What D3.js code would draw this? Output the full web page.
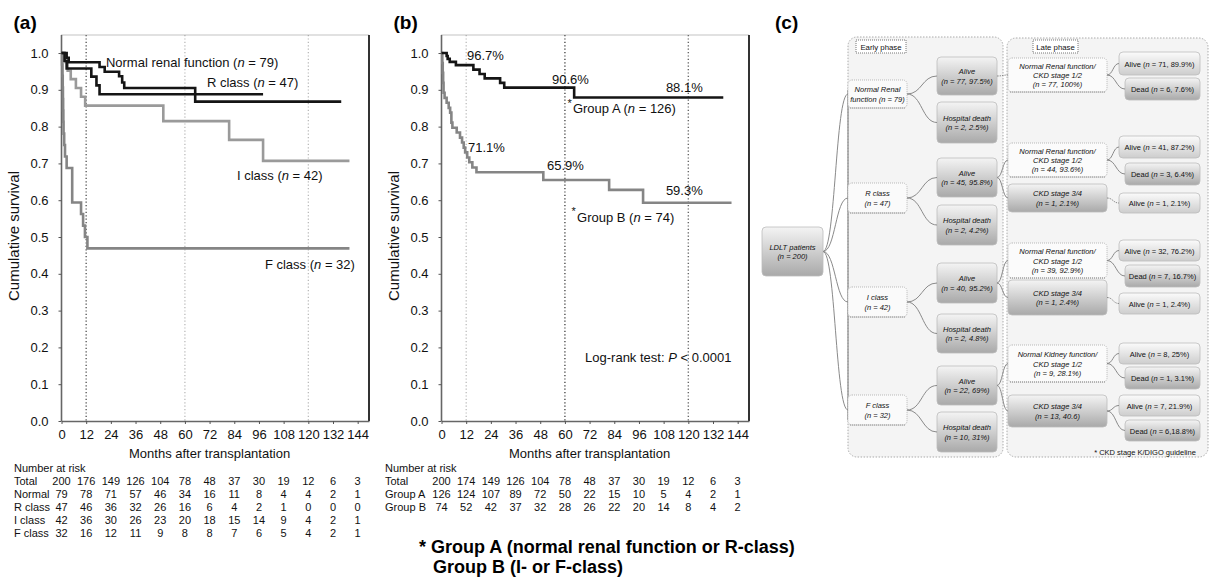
<!DOCTYPE html>
<html>
<head>
<meta charset="utf-8">
<script src="https://cdn.jsdelivr.net/npm/d3@7"></script>
<style>
body { margin: 0; background: #fff; }
svg { font-family: "Liberation Sans", Arial, Helvetica, sans-serif; }
</style>
</head>
<body>
<svg id="fig" width="1211" height="578"></svg>
<script>
// ---- data ----
var months = [0, 12, 24, 36, 48, 60, 72, 84, 96, 108, 120, 132, 144];
var yTicks = [0, 0.1, 0.2, 0.3, 0.4, 0.5, 0.6, 0.7, 0.8, 0.9, 1.0];

// Kaplan-Meier steps [month, survival], panel (a)
var normalCurve = [[0,1],[2.5,0.987],[3.5,0.975],[18.5,0.962],[21,0.949],[28,0.937],[29.5,0.92],[30.5,0.905],[65,0.868],[136,0.868]];
var rClassCurve = [[0,1],[1.5,0.979],[2.5,0.958],[14.5,0.936],[17,0.912],[18.5,0.888],[98,0.888]];
var iClassCurve = [[0,1],[1.2,0.976],[3,0.952],[4.5,0.929],[7,0.905],[9.5,0.881],[11.5,0.857],[49.5,0.815],[81.5,0.764],[98,0.707],[140,0.707]];
var fClassCurve = [[0,1],[0.3,0.969],[0.5,0.938],[0.6,0.906],[0.7,0.875],[0.8,0.844],[0.9,0.813],[1.0,0.781],[1.3,0.75],[1.7,0.719],[2.5,0.6875],[5.2,0.594],[9.5,0.5625],[10.5,0.531],[11.4,0.5],[12.6,0.469],[140,0.469]];

// panel (b)
var groupACurve = [[0,1],[2.5,0.992],[3,0.984],[4,0.976],[7,0.967],[15.5,0.955],[18.5,0.943],[21,0.931],[28.5,0.919],[30.5,0.906],[64.5,0.879],[137,0.879]];
var groupBCurve = [[0,1],[0.4,0.973],[0.6,0.946],[0.8,0.919],[1,0.892],[1.5,0.878],[2.5,0.865],[3.5,0.851],[4.2,0.838],[4.8,0.811],[5.3,0.797],[7.4,0.784],[9,0.77],[10,0.757],[10.8,0.743],[11.5,0.73],[12.5,0.716],[13.5,0.703],[15,0.689],[17,0.676],[49.5,0.655],[81.5,0.628],[98,0.593],[141,0.593]];

// numbers at risk
var riskLabelsA = ["Total", "Normal", "R class", "I class", "F class"];
var riskTotalA  = [200, 176, 149, 126, 104, 78, 48, 37, 30, 19, 12, 6, 3];
var riskNormal  = [79, 78, 71, 57, 46, 34, 16, 11, 8, 4, 4, 2, 1];
var riskRClass  = [47, 46, 36, 32, 26, 16, 6, 4, 2, 1, 0, 0, 0];
var riskIClass  = [42, 36, 30, 26, 23, 20, 18, 15, 14, 9, 4, 2, 1];
var riskFClass  = [32, 16, 12, 11, 9, 8, 8, 7, 6, 5, 4, 2, 1];

var riskLabelsB = ["Total", "Group A", "Group B"];
var riskTotalB  = [200, 174, 149, 126, 104, 78, 48, 37, 30, 19, 12, 6, 3];
var riskGroupA  = [126, 124, 107, 89, 72, 50, 22, 15, 10, 5, 4, 2, 1];
var riskGroupB  = [74, 52, 42, 37, 32, 28, 26, 22, 20, 14, 8, 4, 2];

var curveLabelsA = ["Normal renal function (n = 79)", "R class (n = 47)", "I class (n = 42)", "F class (n = 32)"];
var pctLabelsB = ["96.7%", "90.6%", "88.1%", "71.1%", "65.9%", "59.3%"];
var groupLabelsB = ["Group A (n = 126)", "Group B (n = 74)"];
var logRankText = "Log-rank test: P < 0.0001";
var footnoteLines = ["* Group A (normal renal function or R-class)", "Group B (I- or F-class)"];

// flowchart texts (panel c)
var flowRoot = ["LDLT patients", "(n = 200)"];
var flowClasses = [["Normal Renal", "function (n = 79)"], ["R class", "(n = 47)"], ["I class", "(n = 42)"], ["F class", "(n = 32)"]];
var flowEarly = [
  [["Alive", "(n = 77, 97.5%)"], ["Hospital death", "(n = 2, 2.5%)"]],
  [["Alive", "(n = 45, 95.8%)"], ["Hospital death", "(n = 2, 4.2%)"]],
  [["Alive", "(n = 40, 95.2%)"], ["Hospital death", "(n = 2, 4.8%)"]],
  [["Alive", "(n = 22, 69%)"], ["Hospital death", "(n = 10, 31%)"]]
];
var flowMid = [
  [["Normal Renal function/", "CKD stage 1/2", "(n = 77, 100%)"]],
  [["Normal Renal function/", "CKD stage 1/2", "(n = 44, 93.6%)"], ["CKD stage 3/4", "(n = 1, 2.1%)"]],
  [["Normal Renal function/", "CKD stage 1/2", "(n = 39, 92.9%)"], ["CKD stage 3/4", "(n = 1, 2.4%)"]],
  [["Normal Kidney function/", "CKD stage 1/2", "(n = 9, 28.1%)"], ["CKD stage 3/4", "(n = 13, 40.6)"]]
];
var flowFinal = [
  [["Alive (n = 71, 89.9%)", "Dead (n = 6, 7.6%)"]],
  [["Alive (n = 41, 87.2%)", "Dead (n = 3, 6.4%)"], ["Alive (n = 1, 2.1%)"]],
  [["Alive (n = 32, 76.2%)", "Dead (n = 7, 16.7%)"], ["Alive (n = 1, 2.4%)"]],
  [["Alive (n = 8, 25%)", "Dead (n = 1, 3.1%)"], ["Alive (n = 7, 21.9%)", "Dead (n = 6,18.8%)"]]
];
var phaseLabels = ["Early phase", "Late phase"];
var flowNote = "* CKD stage K/DIGO guideline";

// ---- drawing ----
var svg = d3.select("#fig");

// put "n" and "P" in italics
function rich(sel, str) {
  str.split(/(\bn\b|\bP\b)/).forEach(function(s) {
    if (!s) return;
    var t = sel.append("tspan").text(s);
    if (s === "n" || s === "P") t.attr("font-style", "italic");
  });
  return sel;
}

function kmPanel(p) {
  var g = svg.append("g");
  var x = d3.scaleLinear().domain([0, 149.5]).range([p.left, p.left + 307.5]);
  var y = d3.scaleLinear().domain([0, 1.049]).range([421, 35]);

  // dotted reference lines
  p.refs.forEach(function(r) {
    g.append("line")
      .attr("x1", x(r.m)).attr("x2", x(r.m))
      .attr("y1", y(1.049)).attr("y2", y(0))
      .attr("stroke", r.c).attr("stroke-width", r.w)
      .attr("stroke-dasharray", "1.2,2.2");
  });

  // frame
  g.append("line")
    .attr("x1", x(0)).attr("x2", x(149.5)).attr("y1", y(1.049)).attr("y2", y(1.049))
    .attr("stroke", "#888").attr("stroke-width", 1.2).attr("stroke-dasharray", "1,1");
  g.append("line")
    .attr("x1", x(149.5)).attr("x2", x(149.5)).attr("y1", y(1.049)).attr("y2", y(0))
    .attr("stroke", "#333").attr("stroke-width", 2);

  var xa = g.append("g").attr("transform", "translate(0," + y(0) + ")")
    .call(d3.axisBottom(x).tickValues(months).tickSize(3).tickSizeOuter(0).tickPadding(6));
  var ya = g.append("g").attr("transform", "translate(" + x(0) + ",0)")
    .call(d3.axisLeft(y).tickValues(yTicks).tickSize(3).tickSizeOuter(0).tickPadding(10)
      .tickFormat(d3.format(".1f")));
  ya.select(".domain").attr("d", "M0," + y(0) + "V" + y(1.049));
  [xa, ya].forEach(function(a) {
    a.select(".domain").attr("stroke", "#666").attr("stroke-width", 1.6);
    a.selectAll(".tick line").attr("stroke", "#555");
    a.selectAll(".tick text").attr("font-size", 13).attr("fill", "#111")
      .attr("font-family", '"Liberation Sans", Arial, sans-serif');
  });

  // curves
  var line = d3.line().x(function(d) { return x(d[0]); }).y(function(d) { return y(d[1]); })
    .curve(d3.curveStepAfter);
  p.curves.forEach(function(c) {
    g.append("path").datum(c.data)
      .attr("d", line)
      .attr("fill", "none")
      .attr("stroke", c.color)
      .attr("stroke-width", 2.6);
  });

  // annotations
  p.notes.forEach(function(n) {
    var t = g.append("text")
      .attr("x", x(n.m)).attr("y", y(n.s))
      .attr("font-size", n.size || 13).attr("fill", "#111");
    rich(t, n.text);
  });

  // titles
  g.append("text")
    .attr("transform", "translate(" + (p.left - 43) + ",236) rotate(-90)")
    .attr("text-anchor", "middle").attr("font-size", 15).attr("fill", "#111")
    .text("Cumulative survival");
  g.append("text")
    .attr("x", (x(0) + x(144)) / 2).attr("y", 457.5)
    .attr("text-anchor", "middle").attr("font-size", 13).attr("fill", "#111")
    .text("Months after transplantation");
  g.append("text")
    .attr("x", p.left - 48).attr("y", 29)
    .attr("font-size", 19).attr("font-weight", "bold").attr("fill", "#000")
    .text(p.tag);

  // number at risk table
  g.append("text")
    .attr("x", p.tableX).attr("y", 472)
    .attr("font-size", 11).attr("fill", "#111")
    .text("Number at risk");
  p.risk.forEach(function(row, i) {
    var yy = 485 + i * 13.1;
    g.append("text").attr("x", p.tableX).attr("y", yy)
      .attr("font-size", 11).attr("fill", "#111").text(row.label);
    g.selectAll(null).data(row.values).enter().append("text")
      .attr("x", function(d, j) { return x(months[j]); })
      .attr("y", yy)
      .attr("text-anchor", "middle")
      .attr("font-size", 11).attr("fill", "#111")
      .text(function(d) { return d; });
  });
  return { x: x, y: y, g: g };
}

var black = "#151515", grayI = "#9a9a9a", grayF = "#858585";

kmPanel({
  tag: "(a)", left: 61.5, tableX: 14,
  refs: [{ m: 12, c: "#666", w: 1.5 }, { m: 60, c: "#b5b5b5", w: 1.2 }, { m: 120, c: "#b5b5b5", w: 1.2 }],
  curves: [
    { data: fClassCurve, color: grayF },
    { data: iClassCurve, color: grayI },
    { data: rClassCurve, color: black },
    { data: normalCurve, color: black }
  ],
  notes: [
    { m: 21.6, s: 0.963, text: curveLabelsA[0] },
    { m: 70.7, s: 0.908, text: curveLabelsA[1] },
    { m: 85.3, s: 0.656, text: curveLabelsA[2] },
    { m: 98.9, s: 0.412, text: curveLabelsA[3] }
  ],
  risk: [
    { label: riskLabelsA[0], values: riskTotalA },
    { label: riskLabelsA[1], values: riskNormal },
    { label: riskLabelsA[2], values: riskRClass },
    { label: riskLabelsA[3], values: riskIClass },
    { label: riskLabelsA[4], values: riskFClass }
  ]
});

kmPanel({
  tag: "(b)", left: 441.5, tableX: 385,
  refs: [{ m: 12, c: "#b5b5b5", w: 1.2 }, { m: 60, c: "#555", w: 1.5 }, { m: 120, c: "#666", w: 1.4 }],
  curves: [
    { data: groupBCurve, color: grayF },
    { data: groupACurve, color: black }
  ],
  notes: [
    { m: 12.4, s: 0.980, text: pctLabelsB[0] },
    { m: 53.7, s: 0.917, text: pctLabelsB[1] },
    { m: 109.1, s: 0.895, text: pctLabelsB[2] },
    { m: 12.9, s: 0.732, text: pctLabelsB[3] },
    { m: 51.3, s: 0.681, text: pctLabelsB[4] },
    { m: 109.1, s: 0.6155, text: pctLabelsB[5] },
    { m: 61.2, s: 0.853, text: "*", size: 11 },
    { m: 63.9, s: 0.838, text: groupLabelsB[0] },
    { m: 63.2, s: 0.56, text: "*", size: 11 },
    { m: 65.9, s: 0.542, text: groupLabelsB[1] },
    { m: 69.8, s: 0.159, text: logRankText }
  ],
  risk: [
    { label: riskLabelsB[0], values: riskTotalB },
    { label: riskLabelsB[1], values: riskGroupA },
    { label: riskLabelsB[2], values: riskGroupB }
  ]
});

// footnote under panel (b)
svg.append("text").attr("x", 419).attr("y", 553)
  .attr("font-size", 18).attr("font-weight", "bold").attr("fill", "#000")
  .text(footnoteLines[0]);
svg.append("text").attr("x", 433).attr("y", 573)
  .attr("font-size", 18).attr("font-weight", "bold").attr("fill", "#000")
  .text(footnoteLines[1]);

// ---- panel (c): flowchart ----
var defs = svg.append("defs");
function grad(id, c0, c1) {
  var lg = defs.append("linearGradient").attr("id", id).attr("x1", 0).attr("y1", 0).attr("x2", 0).attr("y2", 1);
  lg.append("stop").attr("offset", "0%").attr("stop-color", c0);
  lg.append("stop").attr("offset", "100%").attr("stop-color", c1);
}
grad("gDark", "#f4f4f4", "#a9a9a9");
grad("gLight", "#fbfbfb", "#cdcdcd");

var fc = svg.append("g");
fc.append("text").attr("x", 775).attr("y", 29)
  .attr("font-size", 19).attr("font-weight", "bold").attr("fill", "#000").text("(c)");

// phase containers
var cont = [[848, 37, 1003, 457], [1007, 38, 1208, 457]];
cont.forEach(function(c) {
  fc.append("rect").attr("x", c[0]).attr("y", c[1]).attr("width", c[2] - c[0]).attr("height", c[3] - c[1])
    .attr("rx", 9).attr("fill", "#f4f4f4").attr("stroke", "#aaa").attr("stroke-dasharray", "1.5,1.5");
});
var phaseBoxes = [[856, 906], [1033, 1078]];
phaseBoxes.forEach(function(b, i) {
  fc.append("rect").attr("x", b[0]).attr("y", 40).attr("width", b[1] - b[0]).attr("height", 13)
    .attr("fill", "#fff").attr("stroke", "#777").attr("stroke-dasharray", "1,1");
  fc.append("text").attr("x", (b[0] + b[1]) / 2).attr("y", 49.5).attr("text-anchor", "middle")
    .attr("font-size", 7.8).attr("fill", "#111").text(phaseLabels[i]);
});

function fbox(x0, y0, x1, y1, fill, lines, italic, dotted) {
  var r = fc.append("rect").attr("x", x0).attr("y", y0).attr("width", x1 - x0).attr("height", y1 - y0)
    .attr("rx", 4).attr("fill", fill)
    .attr("stroke", dotted ? "#aaa" : "#bdbdbd").attr("stroke-width", 0.8);
  if (dotted) r.attr("stroke-dasharray", "1,1");
  if (dotted) {
    fc.append("line").attr("x1", x0 + 2).attr("x2", x1 - 2).attr("y1", y1).attr("y2", y1)
      .attr("stroke", "#888").attr("stroke-width", 1).attr("stroke-dasharray", "1,1");
  }
  var lh = 9.2, cy = (y0 + y1) / 2, top = cy - (lines.length - 1) * lh / 2;
  lines.forEach(function(s, i) {
    var t = fc.append("text").attr("x", (x0 + x1) / 2).attr("y", top + i * lh + 3)
      .attr("text-anchor", "middle").attr("font-size", 7.5).attr("fill", "#111");
    if (italic) t.attr("font-style", "italic").text(s); else rich(t, s);
  });
  return { l: x0, r: x1, cy: cy };
}
function link(x0, y0, x1, y1, dashed) {
  var l = fc.append("path")
    .attr("d", "M" + x0 + "," + y0 + "C" + (x0 + (x1 - x0) * 0.5) + "," + y0 + " " + (x0 + (x1 - x0) * 0.5) + "," + y1 + " " + x1 + "," + y1)
    .attr("fill", "none").attr("stroke", "#8a8a8a").attr("stroke-width", 1);
  if (dashed) l.attr("stroke-dasharray", "1.5,1");
}

// layout (pixel boxes)
var colX = { root: [762, 823], cls: [848, 907], early: [937, 997], mid: [1008, 1107], fin: [1119, 1200] };
var clsY = [[80, 108], [183, 213], [287, 317], [395, 425]];
var earlyY = [[[57, 95], [102, 143]], [[158, 197], [205, 245]], [[263, 303], [314, 353]], [[366, 405], [412, 452]]];
var midY = [[[58, 92]], [[143, 177], [184, 212]], [[243, 278], [280, 315]], [[345, 382], [395, 427]]];
var finY = [
  [[[52, 75], [78, 100]]],
  [[[136, 158], [163, 185]], [[193, 213]]],
  [[[240, 261], [265, 287]], [[293, 314]]],
  [[[343, 364], [367, 389]], [[395, 416], [420, 441]]]
];

var root = fbox(colX.root[0], 227, colX.root[1], 276, "url(#gDark)", flowRoot, true, false);
fc.append("line").attr("x1", 848).attr("x2", 848).attr("y1", 90).attr("y2", 420)
  .attr("stroke", "#8a8a8a").attr("stroke-width", 1.2);

flowClasses.forEach(function(cl, i) {
  var cb = fbox(colX.cls[0], clsY[i][0], colX.cls[1], clsY[i][1], "#fafafa", cl, true, true);
  link(root.r, root.cy, cb.l, cb.cy);
  flowEarly[i].forEach(function(eo, j) {
    var eb = fbox(colX.early[0], earlyY[i][j][0], colX.early[1], earlyY[i][j][1], "url(#gDark)", eo, true, false);
    link(cb.r, cb.cy, eb.l, eb.cy);
    if (j === 0) {
      flowMid[i].forEach(function(mo, k) {
        var gray = mo.length === 2;
        var mb = fbox(colX.mid[0], midY[i][k][0], colX.mid[1], midY[i][k][1],
          gray ? "url(#gDark)" : "#fbfbfb", mo, true, !gray);
        link(eb.r, eb.cy, mb.l, mb.cy, i === 0);
        flowFinal[i][k].forEach(function(fo, m) {
          var dead = fo.indexOf("Dead") === 0;
          var fb = fbox(colX.fin[0] + (dead ? 6 : 0), finY[i][k][m][0], colX.fin[1], finY[i][k][m][1],
            dead ? "url(#gDark)" : "url(#gLight)", [fo], false, false);
          link(mb.r, mb.cy, fb.l, fb.cy, flowFinal[i][k].length === 1);
        });
      });
    }
  });
});

fc.append("text").attr("x", 1145).attr("y", 455).attr("text-anchor", "middle")
  .attr("font-size", 7.5).attr("fill", "#111").text(flowNote);
</script>
</body>
</html>
